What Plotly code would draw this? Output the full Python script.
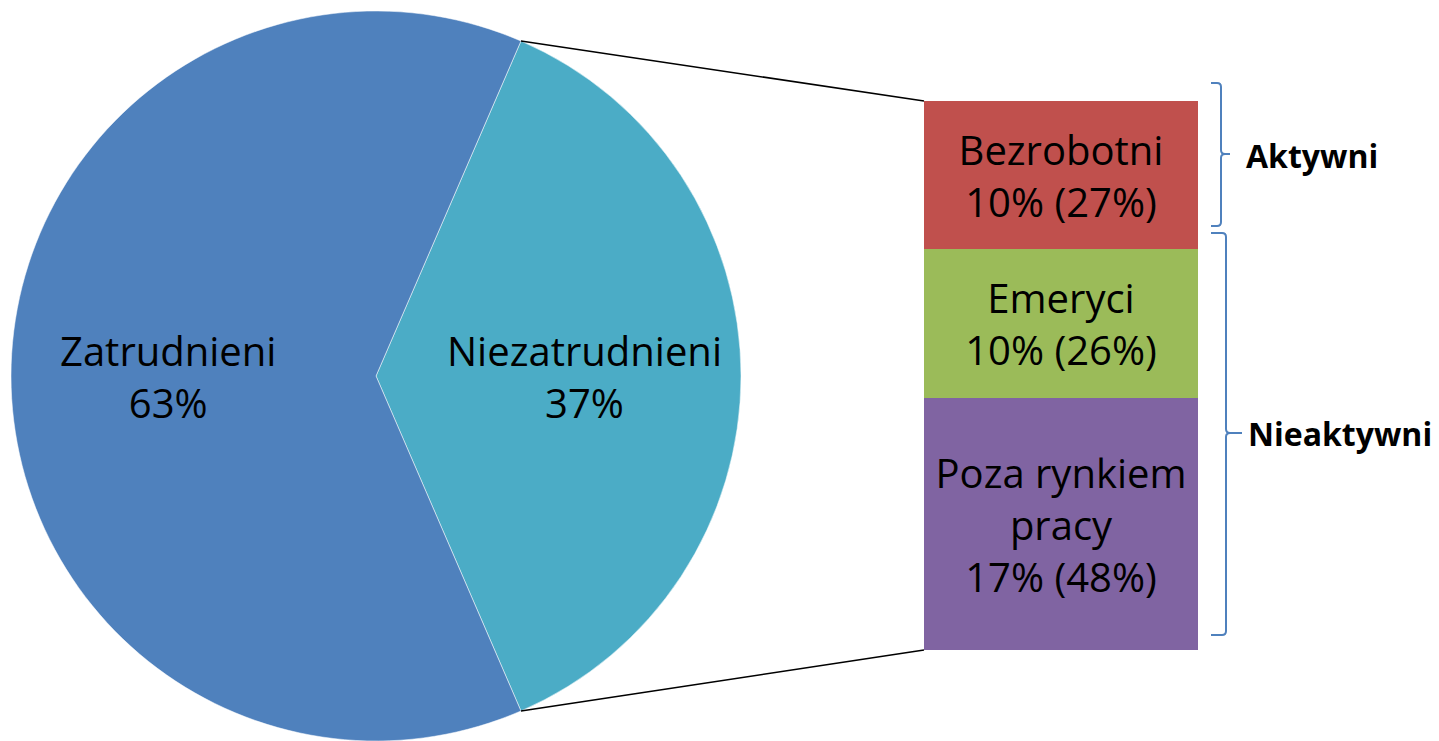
import math
import plotly.graph_objects as go

# --- dane ---
pie_labels = ["Niezatrudnieni", "Zatrudnieni"]
pie_values = [37, 63]
pie_colors = ["#4BACC6", "#4F81BD"]

bar_labels = ["Poza rynkiem<br>pracy", "Emeryci", "Bezrobotni"]
bar_total_share = [17, 10, 10]      # % ogółu
bar_group_share = [48, 26, 27]      # % niezatrudnionych
bar_colors = ["#8064A2", "#9BBB59", "#C0504D"]

group_labels = ["Aktywni", "Nieaktywni"]

OFF = 8  # margines strony w przeglądarce
W, H = 1439 - OFF, 741 - OFF
FONT = "Open Sans"

# geometria (piksele okna)
pie_cx, pie_cy, pie_r = 376, 376, 365
bar_x0, bar_x1, bar_top, bar_bot = 924, 1198, 101, 650


def px(x):
    return (x - OFF) / W


def py(y):
    return 1 - (y - OFF) / H


fig = go.Figure()

rotation = 90 - 360 * pie_values[0] / sum(pie_values) / 2
fig.add_trace(go.Pie(
    labels=pie_labels,
    values=pie_values,
    sort=False,
    direction="clockwise",
    rotation=rotation,
    marker=dict(colors=pie_colors, line=dict(color="rgba(255,255,255,0.5)", width=1)),
    textinfo="none",
    domain=dict(x=[px(pie_cx - pie_r), px(pie_cx + pie_r)],
                y=[max(0, py(pie_cy + pie_r)), min(1, py(pie_cy - pie_r))]),
    showlegend=False,
    hoverinfo="label+percent",
))

# etykiety koła
total = sum(pie_values)
start = rotation
for lab, val in zip(pie_labels, pie_values):
    span = 360 * val / total
    mid = math.radians(start + span / 2)
    d = 0.57 * pie_r
    x = pie_cx + d * math.sin(mid)
    y = pie_cy - d * math.cos(mid)
    fig.add_annotation(x=px(x), y=py(y), xref="paper", yref="paper",
                       xanchor="center", yanchor="middle",
                       text=f"{lab}<br>{round(100 * val / total)}%",
                       showarrow=False, font=dict(family=FONT, size=40, color="black"))
    start += span

# słupek skumulowany
for lab, v, g, c in zip(bar_labels, bar_total_share, bar_group_share, bar_colors):
    fig.add_trace(go.Bar(
        x=[""], y=[v], name=lab.replace("<br>", " "),
        marker=dict(color=c, line=dict(width=0)),
        text=[f"{lab}<br>{v}% ({g}%)"],
        textposition="inside", insidetextanchor="middle",
        constraintext="none", textangle=0,
        textfont=dict(family=FONT, size=40, color="black"),
        showlegend=False, hoverinfo="name+y",
    ))

# linie łączące
a = math.radians(rotation)
for sign, yb in [(-1, bar_top), (1, bar_bot)]:
    x0 = pie_cx + pie_r * math.sin(a)
    y0 = pie_cy + sign * pie_r * math.cos(a)
    fig.add_shape(type="line", xref="paper", yref="paper",
                  x0=px(x0), y0=py(y0), x1=px(bar_x0), y1=py(yb),
                  line=dict(color="black", width=1.6))


# nawiasy klamrowe
def brace(xl, xs, xp, yt, yb, ym):
    k = 4
    pts = (f"M {px(xl)},{py(yt)} L {px(xs - k)},{py(yt)} Q {px(xs)},{py(yt)} {px(xs)},{py(yt + k)} "
           f"L {px(xs)},{py(ym - k)} Q {px(xs)},{py(ym)} {px(xs + k)},{py(ym)} L {px(xp)},{py(ym)} "
           f"M {px(xs + k)},{py(ym)} Q {px(xs)},{py(ym)} {px(xs)},{py(ym + k)} "
           f"L {px(xs)},{py(yb - k)} Q {px(xs)},{py(yb)} {px(xs - k)},{py(yb)} L {px(xl)},{py(yb)}")
    fig.add_shape(type="path", xref="paper", yref="paper", path=pts,
                  line=dict(color="#4F81BD", width=2))


brace(1211, 1221, 1230, 83, 226, 154)
brace(1211, 1226, 1242, 233, 635, 433)

for lab, x, y in [(group_labels[0], 1244, 155), (group_labels[1], 1246, 433)]:
    fig.add_annotation(x=px(x), y=py(y), xref="paper", yref="paper", text=f"<b>{lab}</b>",
                       showarrow=False, xanchor="left", yanchor="middle",
                       font=dict(family=FONT, size=32, color="black"))

fig.update_layout(
    width=W, height=H,
    barmode="stack", bargap=0,
    margin=dict(l=0, r=0, t=0, b=0),
    paper_bgcolor="white", plot_bgcolor="white",
    xaxis=dict(domain=[px(bar_x0), px(bar_x1)], visible=False),
    yaxis=dict(domain=[py(bar_bot), py(bar_top)], range=[0, sum(bar_total_share)], visible=False),
)

fig.write_html("out.html")
